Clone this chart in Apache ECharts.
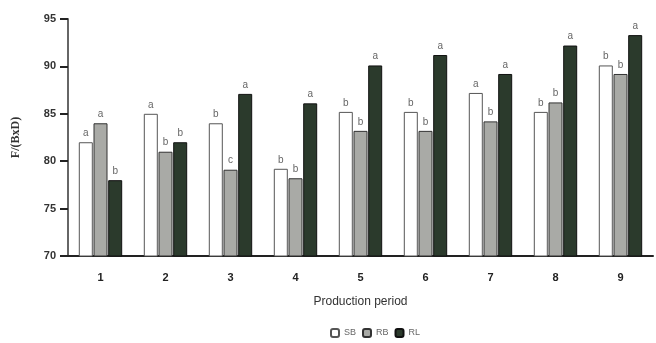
<!DOCTYPE html>
<html>
<head>
<meta charset="utf-8">
<script src="https://cdn.jsdelivr.net/npm/echarts@6/dist/echarts.min.js"></script>
<style>
  html, body { margin: 0; padding: 0; background: #fff; }
  #chart { width: 656px; height: 343px; }
</style>
</head>
<body>
<div id="chart"></div>
<script>
// data
var periods = ['1', '2', '3', '4', '5', '6', '7', '8', '9'];
var sbValues = [82, 85, 84, 79.2, 85.2, 85.2, 87.2, 85.2, 90.1];
var rbValues = [84, 81, 79.1, 78.2, 83.2, 83.2, 84.2, 86.2, 89.2];
var rlValues = [78, 82, 87.1, 86.1, 90.1, 91.2, 89.2, 92.2, 93.3];
var sbLetters = ['a', 'a', 'b', 'b', 'b', 'b', 'a', 'b', 'b'];
var rbLetters = ['a', 'b', 'c', 'b', 'b', 'b', 'b', 'b', 'b'];
var rlLetters = ['b', 'b', 'a', 'a', 'a', 'a', 'a', 'a', 'a'];

var chart = echarts.init(document.getElementById('chart'));

function letterLabel(letters) {
  return {
    show: true,
    position: 'top',
    distance: 4,
    color: '#666',
    fontSize: 10,
    fontFamily: 'Liberation Sans',
    formatter: function (p) {
      return letters[p.dataIndex]
    }
  }
}

var option = {
  animation: false,
  backgroundColor: '#fff',
  grid: {
    left: 68,
    right: 3,
    top: 19,
    bottom: 87
  },
  legend: {
    top: 323,
    left: 325,
    itemWidth: 8,
    itemHeight: 8,
    itemGap: 6,
    textStyle: {
      fontSize: 9,
      color: '#666',
      fontFamily: 'Liberation Sans'
    },
    data: ['SB', 'RB', 'RL']
  },
  xAxis: {
    type: 'category',
    data: periods,
    name: 'Production period',
    nameLocation: 'middle',
    nameGap: 40,
    nameTextStyle: {
      fontSize: 12,
      color: '#333',
      fontFamily: 'Liberation Sans'
    },
    axisLine: {
      lineStyle: { color: '#222', width: 2 }
    },
    axisTick: {
      length: 5,
      inside: false,
      lineStyle: { color: '#222' }
    },
    axisLabel: {
      fontSize: 11,
      fontWeight: 'bold',
      color: '#222',
      margin: 16,
      fontFamily: 'Liberation Sans'
    }
  },
  yAxis: {
    type: 'value',
    min: 70,
    max: 95,
    interval: 5,
    name: 'F/(BxD)',
    nameLocation: 'middle',
    nameGap: 46,
    nameTextStyle: {
      fontSize: 12,
      fontWeight: 'bold',
      color: '#333',
      fontFamily: 'Liberation Serif'
    },
    splitLine: { show: false },
    axisLine: {
      show: true,
      lineStyle: { color: '#666', width: 2 }
    },
    axisTick: {
      show: true,
      length: 8,
      lineStyle: { color: '#222', width: 2 }
    },
    axisLabel: {
      fontSize: 11,
      fontWeight: 'bold',
      color: '#333',
      margin: 12,
      fontFamily: 'Liberation Sans'
    }
  },
  series: [
    {
      name: 'SB',
      type: 'bar',
      barWidth: 14,
      barGap: '5%',
      itemStyle: { color: '#fff', borderColor: '#555', borderWidth: 1 },
      label: letterLabel(sbLetters),
      data: sbValues
    },
    {
      name: 'RB',
      type: 'bar',
      barWidth: 14,
      barGap: '5%',
      itemStyle: { color: '#a9aaa6', borderColor: '#333', borderWidth: 1 },
      label: letterLabel(rbLetters),
      data: rbValues
    },
    {
      name: 'RL',
      type: 'bar',
      barWidth: 14,
      barGap: '5%',
      itemStyle: { color: '#2b3a2c', borderColor: '#111', borderWidth: 1 },
      label: letterLabel(rlLetters),
      data: rlValues
    }
  ]
};

chart.setOption(option);
</script>
</body>
</html>
